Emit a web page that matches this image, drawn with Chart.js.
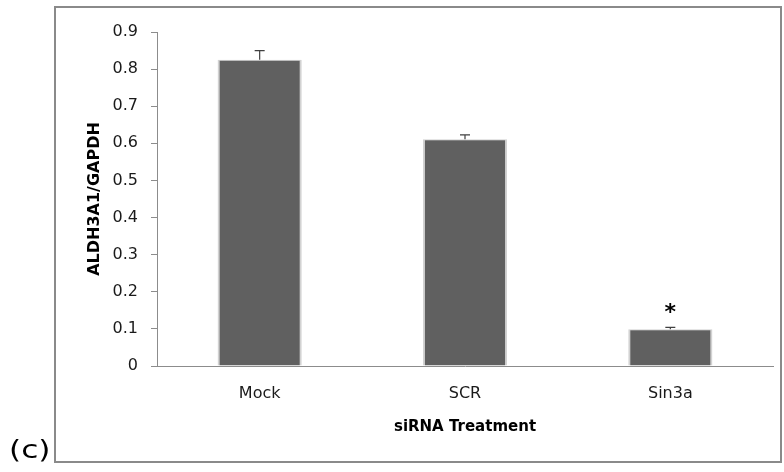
<!DOCTYPE html>
<html>
<head>
<meta charset="utf-8">
<script src="https://cdn.jsdelivr.net/npm/chart.js@4/dist/chart.umd.min.js"></script>
<style>
  html, body { margin: 0; padding: 0; background: #fff; }
  #wrap { position: relative; width: 784px; height: 472px; }
</style>
</head>
<body>
<div id="wrap"><canvas id="c" width="784" height="472"></canvas></div>
<script>
// siRNA knock-down: ALDH3A1 expression normalised to GAPDH
const categories = ['Mock', 'SCR', 'Sin3a'];
const ratioValues = [0.825, 0.611, 0.099];
const ratioErrors = [0.025, 0.012, 0.005];
const significant = [false, false, true];
const yTicks = [0, 0.1, 0.2, 0.3, 0.4, 0.5, 0.6, 0.7, 0.8, 0.9];
const xTitle = 'siRNA Treatment';
const yTitle = 'ALDH3A1/GAPDH';
const panelLabel = '(c)';

const FONT = '"DejaVu Sans", sans-serif';

// frame, panel letter, axis titles, error bars and significance marks
const extras = {
  id: 'extras',
  beforeDraw(chart) {
    const ctx = chart.ctx;
    ctx.save();
    ctx.fillStyle = '#fff';
    ctx.fillRect(0, 0, chart.width, chart.height);
    ctx.strokeStyle = '#8a8a8a';
    ctx.lineWidth = 2;
    ctx.strokeRect(55, 7, 726, 455);

    ctx.fillStyle = '#000';
    ctx.font = '24px ' + FONT;
    ctx.textAlign = 'left';
    ctx.textBaseline = 'alphabetic';
    ctx.save();
    ctx.translate(9, 458);
    ctx.scale(1.3, 1);
    ctx.fillText(panelLabel, 0, 0);
    ctx.restore();

    const area = chart.chartArea;
    ctx.font = 'bold 15px ' + FONT;
    ctx.textAlign = 'center';
    ctx.textBaseline = 'middle';
    ctx.fillText(xTitle, (area.left + area.right) / 2, 427);

    ctx.save();
    ctx.translate(95, (area.top + area.bottom) / 2);
    ctx.rotate(-Math.PI / 2);
    ctx.font = 'bold 16px ' + FONT;
    ctx.fillText(yTitle, 0, 0);
    ctx.restore();
    ctx.restore();
  },
  afterDatasetsDraw(chart) {
    const ctx = chart.ctx;
    const x = chart.scales.x, y = chart.scales.y;
    ctx.save();
    ratioValues.forEach((v, i) => {
      const cx = x.getPixelForValue(i);
      const top = y.getPixelForValue(v + ratioErrors[i]);
      const base = y.getPixelForValue(v);
      ctx.strokeStyle = '#404040';
      ctx.lineWidth = 1.2;
      ctx.beginPath();
      ctx.moveTo(cx, base);
      ctx.lineTo(cx, top);
      ctx.moveTo(cx - 5, top);
      ctx.lineTo(cx + 5, top);
      ctx.stroke();
      if (significant[i]) {
        ctx.fillStyle = '#000';
        ctx.font = 'bold 22px ' + FONT;
        ctx.textAlign = 'center';
        ctx.textBaseline = 'alphabetic';
        ctx.fillText('*', cx, top - 8);
      }
    });
    ctx.restore();
  }
};

new Chart(document.getElementById('c'), {
  type: 'bar',
  data: {
    labels: categories,
    datasets: [{
      data: ratioValues,
      backgroundColor: '#606060',
      borderColor: '#d2d2d2',
      borderWidth: { left: 2, right: 2, top: 1, bottom: 0 },
      borderSkipped: false,
      barPercentage: 0.41,
      categoryPercentage: 1
    }]
  },
  options: {
    responsive: false,
    animation: false,
    devicePixelRatio: 1,
    layout: { padding: { left: 0, right: 11, top: 32, bottom: 0 } },
    plugins: { legend: { display: false }, tooltip: { enabled: false } },
    scales: {
      x: {
        afterFit(s) { s.height = 106; },
        grid: { display: false, drawTicks: false },
        border: { display: true, color: '#8c8c8c', width: 1 },
        ticks: { color: '#1a1a1a', font: { family: FONT, size: 16 }, padding: 18 }
      },
      y: {
        min: 0, max: 0.9,
        afterFit(s) { s.width = 157; },
        afterBuildTicks(s) { s.ticks = yTicks.map(v => ({ value: v })); },
        grid: { drawOnChartArea: false, drawTicks: true, tickLength: 6, color: '#8c8c8c' },
        border: { display: true, color: '#8c8c8c', width: 1 },
        ticks: {
          color: '#1a1a1a', font: { family: FONT, size: 16 }, padding: 13,
          callback: v => (v === 0 ? '0' : v.toFixed(1))
        }
      }
    }
  },
  plugins: [extras]
});
</script>
</body>
</html>
